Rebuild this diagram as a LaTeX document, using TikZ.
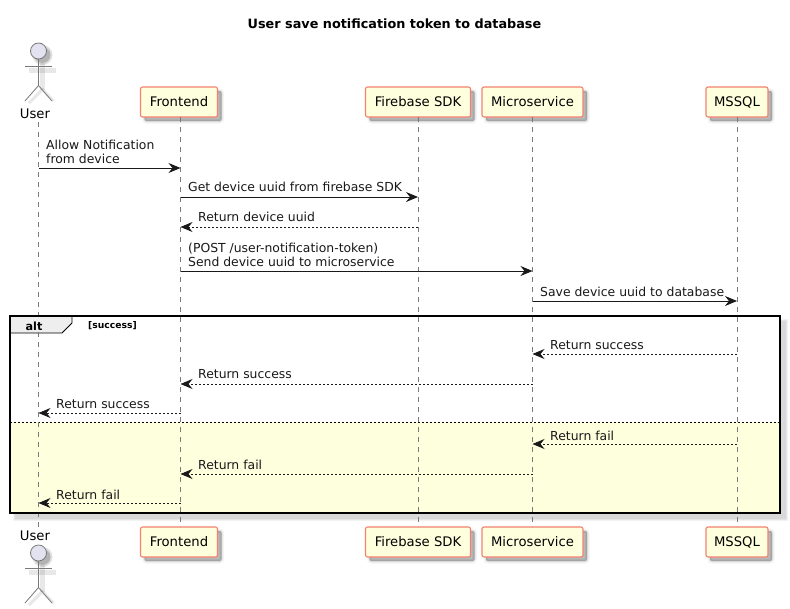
\documentclass[tikz,border=0pt]{standalone}
\usepackage{fontspec}
\setmainfont{DejaVu Sans}
\usetikzlibrary{shadows,arrows.meta,calc}
\definecolor{pbox}{HTML}{FEFFDD}
\definecolor{pborder}{HTML}{F4806F}
\definecolor{pactor}{HTML}{E2E2F0}
\definecolor{pline}{HTML}{7A7A7A}
\definecolor{ptab}{HTML}{EEEEEE}
\tikzset{
  softlayer/.style={general shadow={shadow xshift=4pt,shadow yshift=-4pt,fill=black,draw=black,line width=#1,fill opacity=.075,draw opacity=.04}},
  softshadow/.style={softlayer=5pt,softlayer=3pt,softlayer=1.5pt,softlayer=.2pt},
  partbox/.style={draw=pborder,fill=pbox,line width=1.1pt,rounded corners=2pt,minimum height=30pt,inner sep=0pt,anchor=center,font=\fontsize{13.2}{15}\selectfont,text=black,softshadow},
  lifeline/.style={draw=pline,line width=.7pt,dash pattern=on 5pt off 5pt},
  stick/.style={draw=pline,line width=.8pt},
  stickshadow/.style={draw=black,opacity=.09,line width=5pt},
  tip/.style={-{Stealth[length=12pt,width=10pt,inset=4pt]}},
  msg/.style={draw=black!90,line width=.9pt,tip},
  ret/.style={draw=black!90,line width=.9pt,dash pattern=on 2pt off 2pt,tip},
  lbl/.style={anchor=west,inner sep=0pt,font=\fontsize{12.4}{14.4}\selectfont,align=left,text=black!90},
  actorname/.style={inner sep=0pt,font=\fontsize{13.2}{15}\selectfont,text=black}
}
\newcommand{\drawactor}[1]{%
  \draw[stickshadow] ($(#1)+(-9.5,19.5)$) -- ($(#1)+(17.5,19.5)$);
  \draw[stickshadow] ($(#1)+(4,12)$) -- ($(#1)+(4,38.5)$);
  \draw[stickshadow,line width=3pt] ($(#1)+(-9.5,52)$) -- ($(#1)+(4,38.5)$) -- ($(#1)+(15,50)$);
  \fill[black,opacity=.12] ($(#1)+(4,4)$) circle (10);
  \fill[black,opacity=.2] ($(#1)+(4,4)$) circle (8);
  \draw[stick,fill=pactor] (#1) circle (8);
  \draw[stick] ($(#1)+(0,8)$) -- ($(#1)+(0,34.5)$);
  \draw[stick] ($(#1)+(-13.5,15.5)$) -- ($(#1)+(13.5,15.5)$);
  \draw[stick] ($(#1)+(-13.5,50)$) -- ($(#1)+(0,34.5)$) -- ($(#1)+(13.5,50)$);
}
\begin{document}
\begin{tikzpicture}[x=1pt,y=-1pt]
\useasboundingbox (0,0) rectangle (790,608);
\fill[white] (0,0) rectangle (790,608);
\node[inner sep=0pt,font=\bfseries\fontsize{12.8}{15}\selectfont] (title) at (394.5,24) {User save notification token to database};

% frame
\fill[black,opacity=.05] (13,319) rectangle (788,521);
\fill[black,opacity=.05] (14,320) rectangle (787,520);
\fill[black,opacity=.05] (15,321) rectangle (786,519);
\fill[white] (10,316) rectangle (780,422);
\fill[pbox] (10,422) rectangle (780,513);
\draw[black,line width=.9pt,dash pattern=on 2pt off 2pt] (10,422) -- (780,422);
\draw[fill=ptab,line width=.9pt] (10,316) -- (72,316) -- (72,323) -- (62,333) -- (10,333) -- cycle;

% participants
\coordinate (headtop) at (38.5,51);
\coordinate (headbot) at (38.5,553);
\drawactor{headtop}
\drawactor{headbot}
\node[actorname] (usertop) at (35,114) {User};
\node[actorname] (userbot) at (35,536) {User};
\node[partbox,minimum width=77pt] (ftop) at (179,102) {Frontend};
\node[partbox,minimum width=105pt] (fbtop) at (418,102) {Firebase SDK};
\node[partbox,minimum width=101pt] (mtop) at (532.5,102) {Microservice};
\node[partbox,minimum width=62pt] (dbtop) at (737,102) {MSSQL};
\node[partbox,minimum width=77pt] (fbot) at (179,542) {Frontend};
\node[partbox,minimum width=105pt] (fbbot) at (418,542) {Firebase SDK};
\node[partbox,minimum width=101pt] (mbot) at (532.5,542) {Microservice};
\node[partbox,minimum width=62pt] (dbbot) at (737,542) {MSSQL};

% lifelines
\coordinate (ua) at (38.5,122);
\coordinate (ub) at (38.5,527);
\coordinate (fa) at (180.5,117);
\coordinate (fb) at (180.5,527);
\path[lifeline] (ua) -- (ub);
\path[lifeline] (fa) -- (fb);
\path[lifeline] (fbtop) ++(0,15) coordinate (fba) (fbbot) ++(0,-15) coordinate (fbb);
\path[lifeline] (fba) -- (fbb);
\path[lifeline] (mtop) ++(0,15) coordinate (ma) (mbot) ++(0,-15) coordinate (mb);
\path[lifeline] (ma) -- (mb);
\path[lifeline] (dbtop) ++(0,15) coordinate (da) (dbbot) ++(0,-15) coordinate (db);
\path[lifeline] (da) -- (db);

% frame border
\draw[black,line width=1.5pt] (10,316) rectangle (780,513);
\node[inner sep=0pt,font=\bfseries\fontsize{11.2}{14}\selectfont] (alt) at (34,326) {alt};
\node[inner sep=0pt,anchor=west,font=\bfseries\fontsize{9.2}{10}\selectfont] (cond) at (88,326) {[success]};

% messages
\draw[msg] (ua |- 0,168) -- (fa |- 0,168);
\node[lbl] (m1) at (46,152) {Allow Notification\\from device};
\draw[msg] (fa |- 0,197) -- (fba |- 0,197);
\node[lbl] (m2) at (188,187) {Get device uuid from firebase SDK};
\draw[ret] (fba |- 0,227) -- (fa |- 0,227);
\node[lbl] (m3) at (198,217) {Return device uuid};
\draw[msg] (fa |- 0,271) -- (ma |- 0,271);
\node[lbl] (m4) at (188,255) {(POST /user-notification-token)\\Send device uuid to microservice};
\draw[msg] (ma |- 0,301) -- (da |- 0,301);
\node[lbl] (m5) at (540,291.5) {Save device uuid to database};
\draw[ret] (da |- 0,354) -- (ma |- 0,354);
\node[lbl] (m6) at (550,345.5) {Return success};
\draw[ret] (ma |- 0,384) -- (fa |- 0,384);
\node[lbl] (m7) at (198,374.5) {Return success};
\draw[ret] (fa |- 0,413) -- (ua |- 0,413);
\node[lbl] (m8) at (56,404.5) {Return success};
\draw[ret] (da |- 0,444) -- (ma |- 0,444);
\node[lbl] (m9) at (550,435.5) {Return fail};
\draw[ret] (ma |- 0,474) -- (fa |- 0,474);
\node[lbl] (m10) at (198,464.5) {Return fail};
\draw[ret] (fa |- 0,503) -- (ua |- 0,503);
\node[lbl] (m11) at (56,494.5) {Return fail};
\end{tikzpicture}
\end{document}
